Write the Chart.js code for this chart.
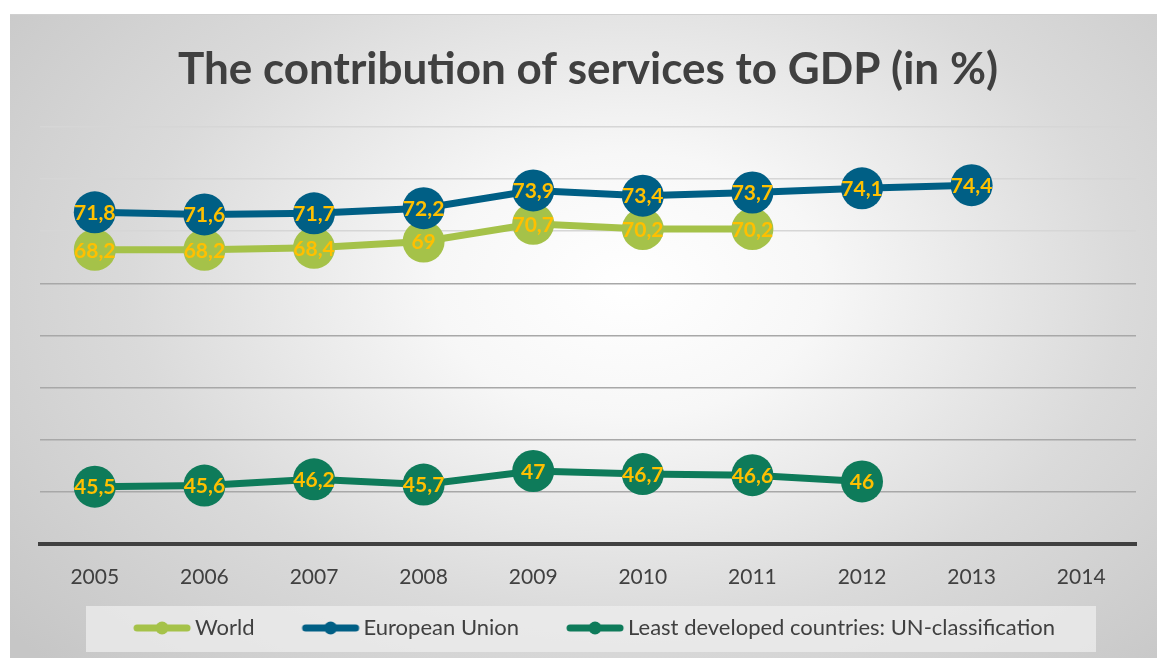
<!DOCTYPE html>
<html lang="en">
<head>
  <meta charset="UTF-8" />
  <title>The contribution of services to GDP (in %)</title>
  <script src="https://cdn.jsdelivr.net/npm/chart.js"></script>
  <style>
    html, body {
      margin: 0;
      padding: 0;
      background: #ffffff;
      overflow: hidden;
    }
    #painel {
      position: absolute;
      left: 10px;
      top: 14px;
      width: 1147px;
      height: 644px;
      border-top: 1px solid #d0d0d0;
      box-sizing: border-box;
      background: radial-gradient(ellipse 70% 85% at 54% 42%, #ffffff 0%, #f7f7f7 24%, #dadada 62%, #c6c6c6 100%);
    }
    #grafico {
      display: block;
    }
  </style>
</head>
<body>
  <div id="painel">
    <canvas id="grafico" width="1147" height="643"></canvas>
  </div>

  <script>
    const anos = ['2005', '2006', '2007', '2008', '2009', '2010', '2011', '2012', '2013', '2014'];
    const mundo = [68.2, 68.2, 68.4, 69, 70.7, 70.2, 70.2, null, null, null];
    const uniaoEuropeia = [71.8, 71.6, 71.7, 72.2, 73.9, 73.4, 73.7, 74.1, 74.4, null];
    const menosDesenvolvidos = [45.5, 45.6, 46.2, 45.7, 47, 46.7, 46.6, 46, null, null];

    const corMundo = '#a5c249';
    const corUE = '#005f85';
    const corPMD = '#0e7b5a';
    const corRotulo = '#ffc000';
    const fonte = 'Lato, "Open Sans", sans-serif';

    // legend symbol: line + dot, pushed to the right of a wider transparent canvas
    // so the gap between legend entries stays wide while the label padding stays small
    function iconeLegenda(cor) {
      const c = document.createElement('canvas');
      c.width = 104;
      c.height = 14;
      const g = c.getContext('2d');
      g.strokeStyle = cor;
      g.lineWidth = 7;
      g.lineCap = 'round';
      g.beginPath();
      g.moveTo(49, 7);
      g.lineTo(99, 7);
      g.stroke();
      g.fillStyle = cor;
      g.beginPath();
      g.arc(74, 7, 6.5, 0, Math.PI * 2);
      g.fill();
      return c;
    }
    const icones = [iconeLegenda(corMundo), iconeLegenda(corUE), iconeLegenda(corPMD)];

    // value labels written inside the markers
    const rotulosValores = {
      id: 'rotulosValores',
      afterDatasetsDraw(chart) {
        const ctx = chart.ctx;
        ctx.save();
        ctx.font = 'bold 21px ' + fonte;
        ctx.fillStyle = corRotulo;
        ctx.textAlign = 'center';
        ctx.textBaseline = 'middle';
        chart.data.datasets.forEach((ds, i) => {
          const meta = chart.getDatasetMeta(i);
          meta.data.forEach((pt, j) => {
            const v = ds.data[j];
            if (v === null || v === undefined) return;
            ctx.fillText(String(v).replace('.', ','), pt.x, pt.y + 1);
          });
        });
        ctx.restore();
      }
    };

    // light panel behind the legend
    const fundoLegenda = {
      id: 'fundoLegenda',
      beforeDraw(chart) {
        const lg = chart.legend;
        if (!lg) return;
        const ctx = chart.ctx;
        ctx.save();
        ctx.fillStyle = 'rgba(238,238,238,0.75)';
        ctx.fillRect(76, lg.top - 1, 1010, 46);
        ctx.restore();
      }
    };

    new Chart(document.getElementById('grafico'), {
      type: 'line',
      data: {
        labels: anos,
        datasets: [
          {
            label: 'World',
            data: mundo,
            borderColor: corMundo,
            backgroundColor: corMundo,
            pointBackgroundColor: corMundo,
            order: 2
          },
          {
            label: 'European Union',
            data: uniaoEuropeia,
            borderColor: corUE,
            backgroundColor: corUE,
            pointBackgroundColor: corUE,
            order: 1
          },
          {
            label: 'Least developed countries: UN-classification',
            data: menosDesenvolvidos,
            borderColor: corPMD,
            backgroundColor: corPMD,
            pointBackgroundColor: corPMD,
            order: 3
          }
        ]
      },
      options: {
        responsive: false,
        animation: false,
        layout: {
          padding: { left: 0, right: 16, top: 0, bottom: 9 }
        },
        elements: {
          line: { borderWidth: 7, tension: 0 },
          point: { radius: 21, hoverRadius: 21, borderWidth: 0, pointStyle: 'circle' }
        },
        scales: {
          x: {
            offset: true,
            grid: { display: false, drawTicks: false },
            border: { display: true, color: '#404040', width: 4 },
            ticks: {
              color: '#404040',
              padding: 21,
              font: { family: fonte, size: 21 }
            },
            afterFit: s => { s.height = 63; }
          },
          y: {
            min: 40,
            max: 80,
            ticks: { stepSize: 5, display: false },
            border: { display: false },
            grid: {
              drawTicks: false,
              lineWidth: 1.5,
              color: c => (c.tick && c.tick.value >= 70 ? '#d6d6d6' : '#a8a8a8')
            },
            afterFit: s => { s.width = 30; }
          }
        },
        plugins: {
          title: {
            display: true,
            fullSize: false,
            text: 'The contribution of services to GDP (in %)',
            color: '#404040',
            font: { family: fonte, size: 44, weight: 'bold' },
            padding: { top: 28, bottom: 31 }
          },
          legend: {
            position: 'bottom',
            labels: {
              usePointStyle: true,
              pointStyleWidth: 88,
              boxHeight: 14,
              padding: 10,
              color: '#404040',
              font: { family: fonte, size: 22 },
              generateLabels: chart => chart.data.datasets.map((ds, i) => ({
                text: ds.label,
                fillStyle: ds.borderColor,
                strokeStyle: ds.borderColor,
                lineWidth: 0,
                pointStyle: icones[i],
                fontColor: '#404040',
                hidden: false,
                datasetIndex: i
              }))
            }
          },
          tooltip: { enabled: false }
        }
      },
      plugins: [fundoLegenda, rotulosValores]
    });
  </script>
</body>
</html>
